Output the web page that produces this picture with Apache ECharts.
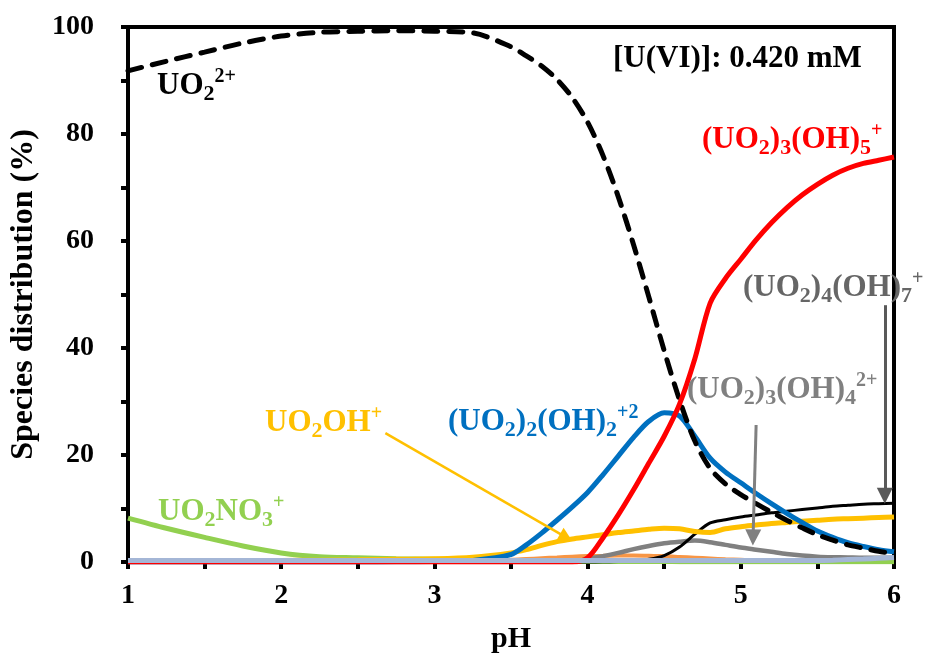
<!DOCTYPE html>
<html>
<head>
<meta charset="utf-8">
<script src="https://cdn.jsdelivr.net/npm/echarts@6/dist/echarts.min.js"></script>
<style>
  html, body { margin: 0; padding: 0; background: #fff; }
  #chart { width: 928px; height: 660px; }
</style>
</head>
<body>
<div id="chart"></div>
<script>
// pH grid shared by all species
const ph = [1.0, 1.25, 1.5, 1.75, 2.0, 2.25, 2.5, 2.75, 3.0, 3.25, 3.5,
  3.6, 3.7, 3.8, 3.9, 4.0, 4.1, 4.2, 4.3, 4.4, 4.5,
  4.6, 4.7, 4.8, 4.9, 5.0, 5.1, 5.2, 5.3, 5.4, 5.5,
  5.6, 5.7, 5.8, 5.9, 6.0];

// species distribution (%)
const uo2 = [91.8, 93.6, 95.3, 97, 98.3, 99, 99.2, 99.3, 99.2, 98.9, 96.3,
  94.6, 92.7, 90.2, 86.8, 82.2, 76, 68.3, 59.3, 49.5, 39.5,
  30.3, 22.6, 17.5, 14.6, 12.6, 10.9, 9.3, 7.8, 6.4, 5.1,
  4.1, 3.2, 2.6, 2.0, 1.6];
const uo2oh = [0.1, 0.15, 0.2, 0.25, 0.3, 0.35, 0.4, 0.5, 0.6, 0.9, 1.7,
  2.3, 3.1, 3.8, 4.3, 4.7, 5.1, 5.5, 5.8, 6.1, 6.3,
  6.2, 5.7, 5.5, 6.2, 6.6, 6.9, 7.2, 7.4, 7.6, 7.8,
  8.0, 8.1, 8.2, 8.3, 8.4];
const dimer22 = [0, 0, 0, 0, 0, 0, 0, 0.05, 0.1, 0.3, 1.4,
  3.2, 5.4, 7.8, 10.3, 13.0, 16.3, 19.8, 23.3, 26.3, 27.9,
  27.3, 23.5, 19.4, 16.8, 14.8, 12.8, 10.9, 9.1, 7.4, 5.8,
  4.6, 3.6, 2.9, 2.3, 1.9];
const trimer35 = [0, 0, 0, 0, 0, 0, 0, 0, 0, 0, 0,
  0, 0, 0, 0, 0.8, 4.5, 8.8, 13.5, 18.5, 23.5,
  29.5, 38, 48.4, 53, 56.6, 60.2, 63.4, 66.2, 68.6, 70.6,
  72.3, 73.6, 74.5, 75.1, 75.7];
const tetramer47 = [0, 0, 0, 0, 0, 0, 0, 0, 0, 0, 0,
  0, 0, 0, 0, 0, 0, 0.1, 0.2, 0.5, 1.2,
  2.8, 5.2, 7.3, 7.9, 8.4, 8.8, 9.2, 9.5, 9.8, 10.1,
  10.4, 10.6, 10.8, 10.9, 11.0];
const trimer34 = [0, 0, 0, 0, 0, 0, 0, 0, 0, 0, 0,
  0, 0, 0, 0, 0.6, 1.1, 1.7, 2.4, 3.0, 3.5,
  3.8, 4.0, 3.7, 3.2, 2.7, 2.3, 1.9, 1.5, 1.2, 1.0,
  0.9, 0.85, 0.8, 0.8, 0.8];
const nitrate = [8.2, 6.3, 4.6, 3.0, 1.7, 1.0, 0.8, 0.6, 0.5, 0.4, 0.3,
  0.25, 0.2, 0.2, 0.15, 0.15, 0.1, 0.1, 0.1, 0.1, 0.1,
  0.05, 0.05, 0.05, 0.05, 0.05, 0.05, 0.05, 0.05, 0.05, 0.05,
  0.05, 0.05, 0.05, 0.05, 0.05];
const uo2oh2 = [0, 0, 0, 0, 0, 0, 0, 0.05, 0.1, 0.2, 0.4,
  0.55, 0.7, 0.85, 1.0, 1.1, 1.15, 1.2, 1.2, 1.15, 1.1,
  0.95, 0.8, 0.65, 0.5, 0.4, 0.3, 0.25, 0.2, 0.15, 0.1,
  0.05, 0.05, 0.05, 0.05, 0.05];
const uo2no32 = [0.3, 0.3, 0.3, 0.3, 0.3, 0.3, 0.3, 0.3, 0.3, 0.3, 0.3,
  0.3, 0.3, 0.3, 0.3, 0.3, 0.3, 0.3, 0.3, 0.3, 0.3,
  0.3, 0.3, 0.3, 0.3, 0.3, 0.3, 0.3, 0.3, 0.3, 0.3,
  0.35, 0.45, 0.55, 0.7, 0.85];

// annotation arrows [pH, %]
const arrowUO2OH = [[2.68, 24.1], [3.86, 4.6]];
const arrowTrimer34 = [[5.10, 25.6], [5.08, 4.6]];
const arrowTetramer = [[5.94, 48], [5.94, 12.4]];

const xTicks = { min: 1, max: 6, step: 0.5 };
const yTicks = { min: 0, max: 100, step: 10 };

const FONT = "'Liberation Serif', 'Times New Roman', serif";
const pts = arr => ph.map((x, i) => [x, arr[i]]);

function rich(color) {
  const base = { fill: color, fontFamily: FONT, fontWeight: 'bold' };
  return {
    n: Object.assign({ fontSize: 31, lineHeight: 38 }, base),
    sub: Object.assign({ fontSize: 22, lineHeight: 24, verticalAlign: 'bottom' }, base),
    sup: Object.assign({ fontSize: 20, lineHeight: 26, verticalAlign: 'top' }, base)
  };
}
function label(left, top, text, color) {
  return { type: 'text', left: left, top: top, z: 10,
    style: { text: text, fill: color, fontFamily: FONT, fontWeight: 'bold', fontSize: 31, rich: rich(color) } };
}
function arrow(pair, color, width, size) {
  return {
    silent: true, animation: false,
    symbol: ['none', 'triangle'], symbolSize: size,
    label: { show: false },
    lineStyle: { color: color, width: width, type: 'solid' },
    emphasis: { disabled: true },
    data: [[{ coord: pair[0] }, { coord: pair[1] }]]
  };
}
function line(name, arr, color, width, extra) {
  return Object.assign({
    name: name, type: 'line', data: pts(arr), smooth: 0.3, symbol: 'none',
    lineStyle: { color: color, width: width }, itemStyle: { color: color }
  }, extra || {});
}

const chart = echarts.init(document.getElementById('chart'), null, { renderer: 'canvas' });
chart.setOption({
  animation: false,
  backgroundColor: '#fff',
  grid: { left: 124, right: 34, top: 27, bottom: 98, show: true, borderColor: '#000', borderWidth: 4, backgroundColor: 'transparent' },
  xAxis: {
    type: 'value', min: xTicks.min, max: xTicks.max, interval: xTicks.step,
    name: 'pH', nameLocation: 'middle', nameGap: 62,
    nameTextStyle: { fontFamily: FONT, fontWeight: 'bold', fontSize: 30, color: '#000' },
    axisLine: { lineStyle: { color: '#000', width: 4 } },
    axisTick: { show: true, length: 7, lineStyle: { color: '#000', width: 4 } },
    axisLabel: { margin: 20, fontFamily: FONT, fontWeight: 'bold', fontSize: 28, color: '#000',
      formatter: v => (Number.isInteger(v) ? String(v) : '') },
    splitLine: { show: false }
  },
  yAxis: {
    type: 'value', min: yTicks.min, max: yTicks.max, interval: yTicks.step,
    name: 'Species distribution (%)', nameLocation: 'middle', nameGap: 88,
    nameTextStyle: { fontFamily: FONT, fontWeight: 'bold', fontSize: 32, color: '#000' },
    axisLine: { lineStyle: { color: '#000', width: 4 } },
    axisTick: { show: true, length: 7, lineStyle: { color: '#000', width: 4 } },
    axisLabel: { margin: 34, fontFamily: FONT, fontWeight: 'bold', fontSize: 28, color: '#000',
      formatter: v => (v % 20 === 0 ? String(v) : '') },
    splitLine: { show: false }
  },
  series: [
    line('UO2(OH)2', uo2oh2, '#f79646', 4),
    line('UO2NO3+', nitrate, '#92d050', 5),
    line('(UO2)3(OH)4 2+', trimer34, '#808080', 4.5, { markLine: arrow(arrowTrimer34, '#808080', 3, [16, 16]) }),
    line('(UO2)4(OH)7+', tetramer47, '#000', 3, { markLine: arrow(arrowTetramer, '#595959', 3, [16, 16]) }),
    line('UO2OH+', uo2oh, '#ffc000', 5, { markLine: arrow(arrowUO2OH, '#ffc000', 2.5, [14, 14]) }),
    line('(UO2)2(OH)2+2', dimer22, '#0070c0', 5),
    line('UO2 2+', uo2, '#000', 5, { lineStyle: { color: '#000', width: 5, type: [14, 11], cap: 'round' } }),
    line('(UO2)3(OH)5+', trimer35, '#ff0000', 5),
    line('UO2(NO3)2', uo2no32, '#a4b6d6', 5, { z: 3 })
  ],
  graphic: [
    label(157, 67, '{n|UO}{sub|2}{sup|2+}', '#000'),
    label(613, 43, '{n|[U(VI)]: 0.420 mM}', '#000'),
    label(702, 121, '{n|(UO}{sub|2}{n|)}{sub|3}{n|(OH)}{sub|5}{sup|+}', '#ff0000'),
    label(743, 269, '{n|(UO}{sub|2}{n|)}{sub|4}{n|(OH)}{sub|7}{sup|+}', '#666666'),
    label(687, 371, '{n|(UO}{sub|2}{n|)}{sub|3}{n|(OH)}{sub|4}{sup|2+}', '#808080'),
    label(448, 403, '{n|(UO}{sub|2}{n|)}{sub|2}{n|(OH)}{sub|2}{sup|+2}', '#0070c0'),
    label(265, 404, '{n|UO}{sub|2}{n|OH}{sup|+}', '#ffc000'),
    label(158, 493, '{n|UO}{sub|2}{n|NO}{sub|3}{sup|+}', '#92d050')
  ]
});
</script>
</body>
</html>
